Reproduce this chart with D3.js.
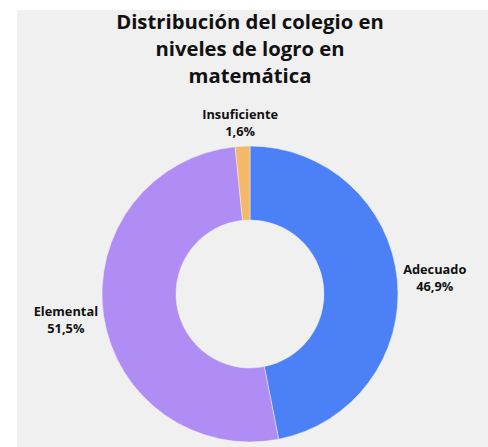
<!DOCTYPE html>
<html>
<head>
<meta charset="utf-8">
<script src="https://cdn.jsdelivr.net/npm/d3@7"></script>
<style>
  body { margin: 0; background: #fff; }
  text { font-family: "Open Sans", "Noto Sans", sans-serif; }
</style>
</head>
<body>
<div id="chart"></div>
<script>
var categories = ["Adecuado", "Elemental", "Insuficiente"];
var values = [46.9, 51.5, 1.6];
var valueLabels = ["46,9%", "51,5%", "1,6%"];
var colors = ["#4b80f7", "#b08df5", "#f4b868"];
var titleLines = ["Distribución del colegio en", "niveles de logro en", "matemática"];

var width = 488;
var height = 447;
var cx = 250, cy = 294;
var outerR = 148, innerR = 74;
var gap = 6;

var svg = d3.select("#chart")
    .append("svg")
    .attr("width", width)
    .attr("height", height);

svg.append("rect")
    .attr("x", 17)
    .attr("y", 10)
    .attr("width", width - 17)
    .attr("height", height - 10)
    .attr("fill", "#f0f0f0");

var title = svg.append("text")
    .attr("text-anchor", "middle")
    .attr("font-size", 20.3)
    .attr("font-weight", "bold")
    .attr("fill", "#111");

title.selectAll("tspan")
    .data(titleLines)
    .enter()
    .append("tspan")
    .attr("x", 250)
    .attr("y", function(d, i) { return 29 + i * 27; })
    .text(function(d) { return d; });

var data = categories.map(function(c, i) {
    return { name: c, value: values[i], label: valueLabels[i], color: colors[i] };
});

var pie = d3.pie()
    .sort(null)
    .value(function(d) { return d.value; });

var arc = d3.arc()
    .innerRadius(innerR)
    .outerRadius(outerR);

var g = svg.append("g")
    .attr("transform", "translate(" + cx + "," + cy + ")");

var arcs = pie(data);

g.selectAll("path")
    .data(arcs)
    .enter()
    .append("path")
    .attr("d", arc)
    .attr("fill", function(d) { return d.data.color; })
    .attr("stroke", "#f0f0f0")
    .attr("stroke-width", 0.5);

// labels sit just outside the ring, box pushed out along the mid angle
var labels = g.selectAll("g.lbl")
    .data(arcs)
    .enter()
    .append("g")
    .attr("class", "lbl");

labels.each(function(d) {
    var el = d3.select(this);
    el.append("text")
        .attr("text-anchor", "middle")
        .attr("font-size", 12.8)
        .attr("font-weight", "bold")
        .attr("fill", "#111")
        .attr("y", -5)
        .text(d.data.name);
    el.append("text")
        .attr("text-anchor", "middle")
        .attr("font-size", 12.8)
        .attr("font-weight", "bold")
        .attr("fill", "#111")
        .attr("y", 12.5)
        .text(d.data.label);

    var bb = el.node().getBBox();
    var a = (d.startAngle + d.endAngle) / 2;
    var px = (outerR + gap) * Math.sin(a);
    var py = -(outerR + gap) * Math.cos(a);
    var bx = px + Math.sin(a) * bb.width / 2;
    var by = py - Math.cos(a) * bb.height / 2;
    var ox = bb.x + bb.width / 2;
    var oy = bb.y + bb.height / 2;
    el.attr("transform", "translate(" + (bx - ox) + "," + (by - oy) + ")");
});
</script>
</body>
</html>
